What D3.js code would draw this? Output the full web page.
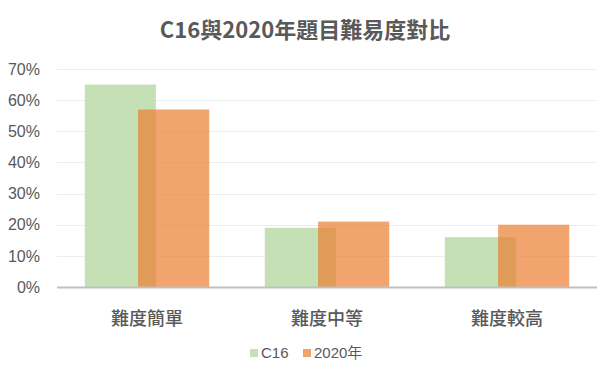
<!doctype html>
<html>
<head>
<meta charset="utf-8">
<script src="https://cdn.jsdelivr.net/npm/d3@7"></script>
<style>
body { margin: 0; background: #fff; }
text { fill: #595959; }
</style>
</head>
<body>
<div id="chart"></div>
<script>
// data
var categories = ["難度簡單", "難度中等", "難度較高"];
var seriesNames = ["C16", "2020年"];
var c16 = [0.65, 0.19, 0.16];
var y2020 = [0.57, 0.21, 0.20];
var yTicks = [0, 0.1, 0.2, 0.3, 0.4, 0.5, 0.6, 0.7];

var W = 610, H = 374;
var margin = {top: 69, right: 13, bottom: 87, left: 57},
    width = W - margin.left - margin.right,
    height = H - margin.top - margin.bottom;

var svg = d3.select("#chart").append("svg")
    .attr("width", W)
    .attr("height", H);

var g = svg.append("g")
    .attr("transform", "translate(" + margin.left + "," + margin.top + ")");

var x = d3.scaleBand().domain(categories).range([0, width]).paddingInner(0).paddingOuter(0);
var y = d3.scaleLinear().domain([0, 0.7]).range([height, 0]);

// bar geometry (excel style: overlap 25%)
var barW = x.bandwidth() * 0.395;
var overlap = barW * 0.25;
var groupW = barW * 2 - overlap;

// gridlines
g.selectAll(".grid")
    .data(yTicks.slice(1))
  .enter().append("line")
    .attr("x1", 0).attr("x2", width)
    .attr("y1", function(d) { return Math.round(y(d)) + 0.5; })
    .attr("y2", function(d) { return Math.round(y(d)) + 0.5; })
    .attr("stroke", "#ededed")
    .attr("stroke-width", 1);

// y labels
g.selectAll(".ylab")
    .data(yTicks)
  .enter().append("text")
    .attr("x", -17)
    .attr("y", function(d) { return y(d); })
    .attr("dy", "0.36em")
    .attr("text-anchor", "end")
    .style("font-family", "'Liberation Sans', Arial, sans-serif")
    .style("font-size", "16px")
    .text(function(d) { return d3.format(".0%")(d); });

// C16 bars
g.selectAll(".c16")
    .data(c16)
  .enter().append("rect")
    .attr("x", function(d, i) { return x(categories[i]) + (x.bandwidth() - groupW) / 2; })
    .attr("y", function(d) { return y(d); })
    .attr("width", barW)
    .attr("height", function(d) { return height - y(d); })
    .attr("fill", "#c5e0b4");

// 2020 bars
g.selectAll(".y2020")
    .data(y2020)
  .enter().append("rect")
    .attr("x", function(d, i) { return x(categories[i]) + (x.bandwidth() - groupW) / 2 + barW - overlap; })
    .attr("y", function(d) { return y(d); })
    .attr("width", barW)
    .attr("height", function(d) { return height - y(d); })
    .attr("fill", "#ed7d31")
    .attr("fill-opacity", 0.7);

// baseline
g.append("line")
    .attr("x1", 0).attr("x2", width)
    .attr("y1", height + 0.5).attr("y2", height + 0.5)
    .attr("stroke", "#bfbfbf")
    .attr("stroke-width", 2);

// category labels
g.selectAll(".xlab")
    .data(categories)
  .enter().append("text")
    .attr("x", function(d) { return x(d) + x.bandwidth() / 2; })
    .attr("y", height + 38)
    .attr("text-anchor", "middle")
    .style("font-family", "'Noto Sans CJK TC', sans-serif")
    .style("font-size", "18px")
    .style("font-weight", "500")
    .text(function(d) { return d; });

// title
svg.append("text")
    .attr("x", W / 2)
    .attr("y", 38)
    .attr("text-anchor", "middle")
    .style("font-family", "'Noto Sans CJK TC', sans-serif")
    .style("font-size", "22px")
    .style("font-weight", "bold")
    .text("C16與2020年題目難易度對比");

// legend
var legendColors = ["#c5e0b4", "#f2a46f"];
var legendX = [250, 303];
var leg = svg.selectAll(".leg")
    .data(seriesNames)
  .enter().append("g")
    .attr("transform", function(d, i) { return "translate(" + legendX[i] + ",353)"; });
leg.append("rect")
    .attr("x", 0).attr("y", -4)
    .attr("width", 8).attr("height", 8)
    .attr("fill", function(d, i) { return legendColors[i]; });
leg.append("text")
    .attr("x", 11)
    .attr("dy", "0.36em")
    .style("font-family", "'Liberation Sans', 'Noto Sans CJK TC', sans-serif")
    .style("font-size", "15px")
    .text(function(d) { return d; });
</script>
</body>
</html>
